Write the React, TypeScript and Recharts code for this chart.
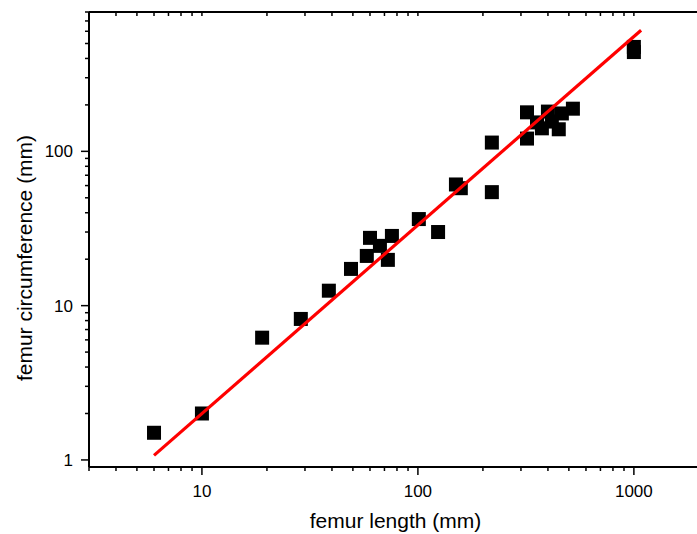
import React from "react";
import { ScatterChart, Scatter, XAxis, YAxis } from "recharts";

// ---- data ----
const femurLength: number[] = [
  6, 10, 19, 28.7, 38.7, 49, 58, 60, 66.7, 72.6, 75.8, 101, 124, 150, 158,
  220, 220, 320, 320, 356, 375, 400, 417, 449, 464, 522, 1000, 1000,
];
const femurCircumference: number[] = [
  1.5, 2.0, 6.2, 8.2, 12.5, 17.3, 21, 27.5, 24.4, 19.8, 28.3, 36.4, 30, 61, 57.7,
  114, 54.4, 179, 121, 154, 141, 181, 156, 139, 176, 189, 475, 440,
];
const fitLength: number[] = [6, 1080];
const fitCircumference: number[] = [1.07, 610];

const xTicks: number[] = [
  3, 4, 5, 6, 7, 8, 9, 10, 20, 30, 40, 50, 60, 70, 80, 90, 100, 200, 300, 400,
  500, 600, 700, 800, 900, 1000,
];
const xMajor: number[] = [10, 100, 1000];
const yTicks: number[] = [
  1, 2, 3, 4, 5, 6, 7, 8, 9, 10, 20, 30, 40, 50, 60, 70, 80, 90, 100, 200, 300,
  400, 500, 600, 700, 800,
];
const yMajor: number[] = [1, 10, 100];
const xDomain: [number, number] = [3, 1960];
const yDomain: [number, number] = [0.9, 800];

const points = femurLength.map((x, i) => ({ x, y: femurCircumference[i] }));
const fit = fitLength.map((x, i) => ({ x, y: fitCircumference[i] }));

// ---- style ----
const FONT = "'Liberation Sans', Arial, Helvetica, sans-serif";
const TICK_SIZE = 8;
const TICK_MARGIN = 2;

const BottomTick = (props: any) => {
  const { x, y, payload } = props;
  const axisY = y - TICK_SIZE - TICK_MARGIN;
  const major = xMajor.includes(payload.value);
  return (
    <g>
      <line x1={x} x2={x} y1={axisY} y2={axisY + (major ? 8 : 4)} stroke="#000" strokeWidth={1.5} />
      {major && (
        <text x={x} y={axisY + 29.5} textAnchor="middle" fontSize={17} fontFamily={FONT} fill="#000">
          {payload.value}
        </text>
      )}
    </g>
  );
};

const TopTick = (props: any) => {
  const { x, y } = props;
  const axisY = y - TICK_SIZE - TICK_MARGIN;
  return <line x1={x} x2={x} y1={axisY} y2={axisY + 4} stroke="#000" strokeWidth={1.5} />;
};

const LeftTick = (props: any) => {
  const { x, y, payload } = props;
  const axisX = x + TICK_SIZE + TICK_MARGIN;
  const major = yMajor.includes(payload.value);
  return (
    <g>
      <line x1={axisX - (major ? 8 : 4)} x2={axisX} y1={y} y2={y} stroke="#000" strokeWidth={1.5} />
      {major && (
        <text x={axisX - 16} y={y} dy="0.36em" textAnchor="end" fontSize={17} fontFamily={FONT} fill="#000">
          {payload.value}
        </text>
      )}
    </g>
  );
};

const Square = (props: any) => {
  const { cx, cy } = props;
  if (cx == null || cy == null) return <g />;
  return <rect x={cx - 7} y={cy - 7} width={14} height={14} fill="#000" />;
};

const Nothing = () => <g />;

export default function App() {
  return (
    <div style={{ position: "absolute", left: 0, top: 0, width: 697, height: 534 }}>
      <ScatterChart width={697} height={534} margin={{ top: 12, right: 0, bottom: 0, left: 9 }}>
        <XAxis
          xAxisId="b"
          dataKey="x"
          type="number"
          scale="log"
          domain={xDomain}
          allowDataOverflow
          ticks={xTicks}
          interval={0}
          height={67}
          tickSize={TICK_SIZE}
          tickMargin={TICK_MARGIN}
          tickLine={false}
          tick={<BottomTick />}
          axisLine={{ stroke: "#000", strokeWidth: 2 }}
          label={(p: any) => {
            const vb = p.viewBox || { x: 89, y: 467, width: 608, height: 67 };
            return (
              <text
                x={vb.x + vb.width / 2 + 2.5}
                y={vb.y + 61}
                textAnchor="middle"
                fontSize={21}
                fontFamily={FONT}
                fill="#000"
              >
                femur length (mm)
              </text>
            );
          }}
        />
        <XAxis
          xAxisId="t"
          dataKey="x"
          type="number"
          scale="log"
          orientation="top"
          mirror
          domain={xDomain}
          allowDataOverflow
          ticks={xTicks}
          interval={0}
          tickSize={TICK_SIZE}
          tickMargin={TICK_MARGIN}
          tickLine={false}
          tick={<TopTick />}
          axisLine={{ stroke: "#000", strokeWidth: 2 }}
        />
        <YAxis
          yAxisId="l"
          dataKey="y"
          type="number"
          scale="log"
          domain={yDomain}
          allowDataOverflow
          ticks={yTicks}
          interval={0}
          width={80}
          tickSize={TICK_SIZE}
          tickMargin={TICK_MARGIN}
          tickLine={false}
          tick={<LeftTick />}
          axisLine={{ stroke: "#000", strokeWidth: 2 }}
          label={(p: any) => {
            const vb = p.viewBox || { x: 9, y: 12, width: 80, height: 455 };
            const cx = vb.x + 22.5;
            const cy = vb.y + vb.height / 2 + 18.5;
            return (
              <text
                x={cx}
                y={cy}
                transform={`rotate(-90, ${cx}, ${cy})`}
                textAnchor="middle"
                fontSize={21}
                fontFamily={FONT}
                fill="#000"
              >
                femur circumference (mm)
              </text>
            );
          }}
        />
        <Scatter
          xAxisId="b"
          yAxisId="l"
          data={points}
          shape={<Square />}
          isAnimationActive={false}
        />
        <Scatter
          xAxisId="b"
          yAxisId="l"
          data={fit}
          line={{ stroke: "#ff0000", strokeWidth: 3.2 }}
          lineType="joint"
          shape={<Nothing />}
          isAnimationActive={false}
        />
      </ScatterChart>
    </div>
  );
}
